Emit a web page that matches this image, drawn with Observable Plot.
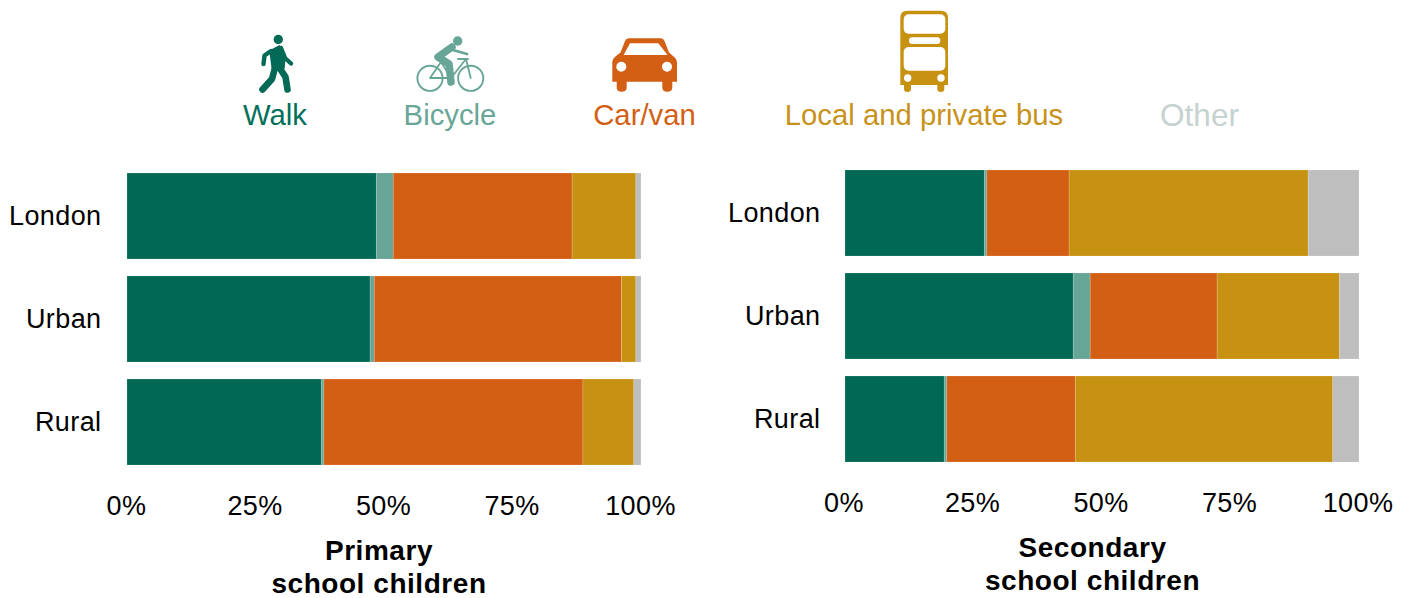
<!DOCTYPE html>
<html>
<head>
<meta charset="utf-8">
<script src="https://cdn.jsdelivr.net/npm/d3@7"></script>
<script src="https://cdn.jsdelivr.net/npm/@observablehq/plot@0.6"></script>
<style>
html,body{margin:0;padding:0;background:#fff;width:1410px;height:598px;overflow:hidden;position:relative;font-family:"Liberation Sans",Arial,sans-serif;}
.lg{position:absolute;top:97px;font-size:29.3px;line-height:36px;transform:translateX(-50%);white-space:nowrap;}
.ttl{position:absolute;font-size:28px;font-weight:bold;line-height:33px;text-align:center;transform:translateX(-50%);white-space:nowrap;color:#000;letter-spacing:.55px;}
#plots svg{position:absolute;top:0;}
#icons{position:absolute;left:0;top:0;}
</style>
</head>
<body>
<svg id="icons" width="1410" height="97" viewBox="0 0 1410 97">
  <g id="walk" fill="#026A55" stroke="#026A55" stroke-linecap="round" stroke-linejoin="round">
    <circle cx="278.3" cy="39.5" r="4.7" stroke="none"/>
    <path d="M270 51L279.5 46L285 55L284 68L272.5 70Z" stroke-width="1.5"/>
    <path d="M271 51L264.5 55.5L263.5 64M281 48L285 58L291 63.5" fill="none" stroke-width="4.4"/>
    <path d="M275.5 66L272 79L262.5 89.5M279 67L285.5 77L287.5 89.5" fill="none" stroke-width="6.6"/>
  </g>
  <g id="bike" fill="none" stroke="#67A597" stroke-linecap="round" stroke-linejoin="round">
    <circle cx="457.7" cy="41" r="4.7" fill="#67A597" stroke="none"/>
    <circle cx="430" cy="78.3" r="12.6" stroke-width="1.9"/>
    <circle cx="470.7" cy="78.3" r="12.6" stroke-width="1.9"/>
    <path d="M452 47L438 57L449 64L451 82" stroke-width="7.5"/>
    <path d="M453 50L467 54" stroke-width="2.8"/>
    <path d="M430 78H451L441 62L430 78M451 78L466 59L470.7 78M458 59H468" stroke-width="1.8"/>
  </g>
  <g id="car">
    <path fill="#D35F15" fill-rule="evenodd" d="M629 38.3H661Q663.5 38.3 664.5 41L669 52.5L673 56Q677 58.5 677 63V81.7H672.3V87.5Q672.3 91.7 667.3 91.7Q662.3 91.7 662.3 87.5V81.7H626.7V87.5Q626.7 91.7 621.7 91.7Q616.7 91.7 616.7 87.5V81.7H612.3V63Q612.3 58.5 616 56L620.5 52.5L625 41Q626 38.3 629 38.3ZM630 43.3L623.6 55H667.6L658.3 43.3ZM621.3 61.7A5 5 0 1 0 621.3 71.7A5 5 0 1 0 621.3 61.7ZM667 61.7A5 5 0 1 0 667 71.7A5 5 0 1 0 667 61.7Z"/>
  </g>
  <g id="bus">
    <path fill="#C79211" d="M907 10.7H941Q948 10.7 948 18V85H944.3V89Q944.3 92 940.8 92Q937.3 92 937.3 89V85H911V89Q911 92 907.5 92Q904 92 904 89V85H900.3V18Q900.3 10.7 907 10.7Z"/>
    <g fill="#fff">
      <rect x="903.7" y="14.3" width="41.6" height="19.4" rx="5"/>
      <rect x="909" y="37.3" width="31.3" height="6.7" rx="3.3"/>
      <rect x="903.7" y="47" width="41.6" height="23.7" rx="5"/>
      <circle cx="907.7" cy="78" r="3.7"/>
      <circle cx="941" cy="78" r="3.7"/>
    </g>
  </g>
</svg>
<div class="lg" style="left:275px;color:#026F5B">Walk</div>
<div class="lg" style="left:450px;color:#6AA698">Bicycle</div>
<div class="lg" style="left:644.5px;color:#D35F15">Car/van</div>
<div class="lg" style="left:924px;color:#C8921A">Local and private bus</div>
<div class="lg" style="left:1199.5px;color:#C6D2CF;font-size:31.5px">Other</div>
<div id="plots"></div>
<div class="ttl" style="left:379px;top:534px">Primary<br>school children</div>
<div class="ttl" style="left:1092.5px;top:531px">Secondary<br>school children</div>
<script>
const areas = ["London", "Urban", "Rural"];
const modes = ["Walk", "Bicycle", "Car/van", "Local and private bus", "Other"];
const modeColors = ["#016853", "#67A597", "#D35F15", "#C79211", "#BEBEBE"];
const xTicks = [0, 25, 50, 75, 100];

// percentage shares, one array per area, in the order of `modes`
const primaryLondon   = [48.5, 3.3, 34.8, 12.4, 1.0];
const primaryUrban    = [47.3, 0.8, 48.1, 2.8, 1.0];
const primaryRural    = [37.8, 0.5, 50.4, 9.9, 1.4];
const secondaryLondon = [27.1, 0.5, 16.0, 46.5, 9.9];
const secondaryUrban  = [44.4, 3.3, 24.7, 23.8, 3.8];
const secondaryRural  = [19.3, 0.5, 25.0, 50.1, 5.1];

function tidy(rows) {
  return rows.flatMap((vals, i) => vals.map((value, j) => ({area: areas[i], mode: modes[j], value})));
}

function panel(rows, opts) {
  const svg = Plot.plot({
    width: 705,
    height: 598,
    marginLeft: opts.marginLeft,
    marginRight: 705 - opts.marginLeft - 514,
    marginTop: opts.marginTop,
    marginBottom: 598 - opts.marginTop - 327.25,
    style: {fontFamily: '"Liberation Sans", Arial, sans-serif', fontSize: "27px", color: "#000", background: "transparent", overflow: "visible", letterSpacing: ".4px"},
    x: {domain: [0, 100], axis: null},
    y: {domain: areas, padding: 0.1695, axis: null},
    color: {domain: modes, range: modeColors},
    marks: [
      Plot.barX(tidy(rows), {x: "value", y: "area", fill: "mode", stroke: "#fff", strokeOpacity: 0.22, strokeWidth: 0.7}),
      Plot.axisY({tickSize: 0, tickPadding: opts.yPad, label: null, fontSize: 27, dy: -0.5}),
      Plot.axisX({ticks: xTicks, tickSize: 0, tickPadding: 13.5, label: null, fontSize: 27, dx: opts.xDx, tickFormat: d => d + "%"})
    ]
  });
  svg.style.left = opts.left + "px";
  document.getElementById("plots").appendChild(svg);
}

panel([primaryLondon, primaryUrban, primaryRural], {left: 0, marginLeft: 127, marginTop: 155, yPad: 26, xDx: -1});
panel([secondaryLondon, secondaryUrban, secondaryRural], {left: 705, marginLeft: 140, marginTop: 152, yPad: 25, xDx: -1.5});
</script>
</body>
</html>
